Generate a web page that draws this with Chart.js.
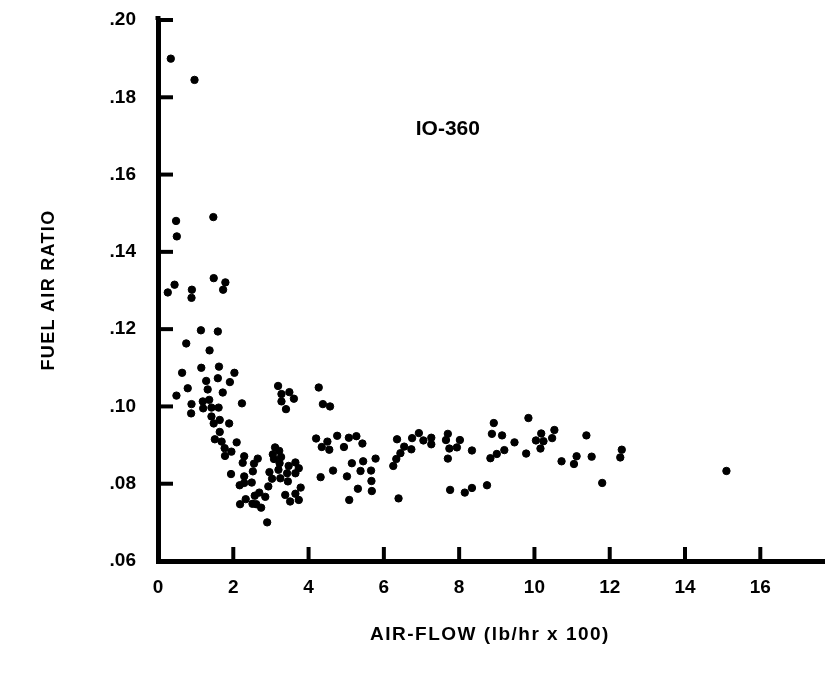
<!DOCTYPE html>
<html>
<head>
<meta charset="utf-8">
<script src="https://cdn.jsdelivr.net/npm/chart.js@4.4.0/dist/chart.umd.min.js"></script>
<style>
  body { margin: 0; background: #fff; }
  canvas { display: block; }
</style>
</head>
<body>
<canvas id="fuelChart" width="829" height="675"></canvas>
<script>
// values
const airFlow = [
  0.34, 0.97, 1.47, 0.48, 0.50, 1.48, 1.79, 0.44, 0.26, 0.90, 0.89, 1.73,
  1.14, 1.59, 0.75, 1.37, 1.15, 1.62, 0.64, 2.03, 1.28, 1.59, 1.91, 0.79,
  1.32, 1.72, 0.49, 0.89, 1.19, 1.36, 1.20, 1.42, 1.61, 0.88, 2.23, 1.42,
  1.64, 1.48, 1.89, 1.64, 1.51, 1.69, 2.09, 1.77, 1.95, 1.78, 2.29, 2.25,
  2.65, 2.55, 3.05, 3.08, 1.94, 2.52, 2.29, 2.96, 2.17, 2.29, 2.49, 3.03,
  2.93, 2.69, 2.85, 2.57, 2.33, 2.18, 2.51, 2.61, 2.74, 2.90,
  3.19, 3.28, 3.49, 3.61, 3.28, 3.40, 4.27, 4.38, 4.57, 4.20, 4.50, 4.76,
  5.07, 5.27, 5.43, 4.35, 4.55, 4.94, 5.78, 5.45, 5.15, 5.38, 5.66, 4.65,
  4.32, 5.02, 5.67, 5.31, 5.68, 5.08, 6.39, 6.35, 6.75, 6.54, 6.73, 6.44,
  6.33, 6.25, 3.11, 3.22, 3.27, 3.23, 3.65, 3.47, 3.74, 3.20, 3.43, 3.65,
  3.25, 3.45, 3.79, 3.38, 3.65, 3.51, 3.74,
  6.93, 7.05, 7.26, 7.26, 7.70, 7.65, 8.02, 7.74, 7.94, 8.34, 7.70, 7.76,
  8.15, 8.34, 8.74, 8.92, 8.87, 9.14, 9.47, 9.20, 9.00, 8.83, 9.84, 10.18,
  10.04, 10.24, 10.16, 9.78, 10.53, 10.47, 11.38, 10.72, 11.12, 11.05, 11.52, 12.32,
  12.28, 11.80, 15.10
];
const fuelAir = [
  .1900, .1845, .1490, .1480, .1440, .1332, .1321, .1315, .1295, .1302, .1281, .1302,
  .1197, .1194, .1163, .1145, .1100, .1103, .1087, .1087, .1066, .1073, .1063, .1047,
  .1044, .1036, .1028, .1006, .1013, .1017, .0995, .0997, .0997, .0982, .1008, .0974,
  .0965, .0956, .0956, .0934, .0915, .0909, .0907, .0892, .0883, .0872, .0871, .0854,
  .0865, .0852, .0876, .0864, .0825, .0832, .0819, .0830, .0796, .0802, .0803, .0813,
  .0793, .0777, .0766, .0769, .0760, .0747, .0748, .0747, .0738, .0700,
  .1053, .1032, .1037, .1020, .1013, .0993, .1049, .1006, .1000, .0917, .0909, .0924,
  .0919, .0923, .0904, .0895, .0888, .0895, .0865, .0858, .0853, .0833, .0834, .0834,
  .0817, .0819, .0807, .0787, .0781, .0758, .0762, .0915, .0918, .0896, .0889, .0879,
  .0864, .0846, .0894, .0885, .0869, .0853, .0855, .0846, .0840, .0836, .0827, .0827,
  .0814, .0806, .0790, .0771, .0774, .0754, .0758,
  .0931, .0912, .0919, .0902, .0929, .0913, .0913, .0891, .0894, .0886, .0865, .0784,
  .0777, .0789, .0796, .0957, .0929, .0925, .0907, .0887, .0877, .0866, .0970, .0930,
  .0912, .0910, .0891, .0878, .0939, .0918, .0925, .0858, .0871, .0851, .0870, .0888,
  .0868, .0802, .0833
];

const xTicks = [0, 2, 4, 6, 8, 10, 12, 14, 16];
const yTicks = [.06, .08, .10, .12, .14, .16, .18, .20];
const engineLabel = 'IO-360';
const xTitle = 'AIR-FLOW (lb/hr x 100)';
const yTitle = 'FUEL AIR RATIO';

const points = airFlow.map((x, i) => ({ x: x, y: fuelAir[i] }));
const FONT = '"Liberation Sans", Arial, sans-serif';

// inward tick marks, titles and the engine label
const decorations = {
  id: 'decorations',
  afterDraw(chart) {
    const ctx = chart.ctx;
    const xs = chart.scales.x;
    const ys = chart.scales.y;
    const area = chart.chartArea;
    ctx.save();
    ctx.strokeStyle = '#000';
    ctx.lineWidth = 4;
    xTicks.forEach(v => {
      if (v === 0) return;
      const px = xs.getPixelForValue(v);
      ctx.beginPath();
      ctx.moveTo(px, area.bottom);
      ctx.lineTo(px, area.bottom - 14);
      ctx.stroke();
    });
    yTicks.forEach(v => {
      if (v === .06) return;
      const py = ys.getPixelForValue(v);
      ctx.beginPath();
      ctx.moveTo(area.left, py);
      ctx.lineTo(area.left + 15, py);
      ctx.stroke();
    });
    // stub of the axis above the top tick
    ctx.lineWidth = 5;
    ctx.beginPath();
    ctx.moveTo(area.left, area.top);
    ctx.lineTo(area.left, area.top - 4);
    ctx.stroke();

    ctx.fillStyle = '#000';
    ctx.textAlign = 'center';
    ctx.textBaseline = 'middle';
    ctx.font = 'bold 21px ' + FONT;
    ctx.fillText(engineLabel, xs.getPixelForValue(7.7), ys.getPixelForValue(.1718));

    ctx.font = 'bold 19px ' + FONT;
    ctx.letterSpacing = '1.5px';
    ctx.fillText(xTitle, 490, 635);

    ctx.translate(49, 290);
    ctx.rotate(-Math.PI / 2);
    ctx.font = 'bold 18px ' + FONT;
    ctx.letterSpacing = '1.3px';
    ctx.fillText(yTitle, 0, 0);
    ctx.restore();
  }
};

new Chart(document.getElementById('fuelChart'), {
  type: 'scatter',
  data: {
    datasets: [{
      data: points,
      backgroundColor: '#000',
      borderColor: '#000',
      pointRadius: 3.7,
      pointHoverRadius: 3.7
    }]
  },
  options: {
    responsive: false,
    animation: false,
    layout: { padding: { top: 20, right: 0, bottom: 0, left: 0 } },
    plugins: {
      legend: { display: false },
      tooltip: { enabled: false }
    },
    scales: {
      x: {
        type: 'linear',
        min: 0,
        max: 17.7,
        afterFit: s => { s.height = 114; s.paddingLeft = 0; s.paddingRight = 0; },
        afterBuildTicks: s => { s.ticks = xTicks.map(v => ({ value: v })); },
        grid: { display: false, drawTicks: false },
        border: { display: true, color: '#000', width: 5 },
        ticks: {
          color: '#000',
          padding: 15,
          font: { family: FONT, size: 19, weight: 'bold' },
          callback: v => String(v)
        }
      },
      y: {
        type: 'linear',
        min: .06,
        max: .20,
        afterFit: s => { s.width = 158; s.paddingTop = 0; s.paddingBottom = 0; },
        afterBuildTicks: s => { s.ticks = yTicks.map(v => ({ value: v })); },
        grid: { display: false, drawTicks: false },
        border: { display: true, color: '#000', width: 5 },
        ticks: {
          color: '#000',
          padding: 22,
          font: { family: FONT, size: 19, weight: 'bold' },
          callback: v => v.toFixed(2).replace(/^0/, '')
        }
      }
    }
  },
  plugins: [decorations]
});
</script>
</body>
</html>
